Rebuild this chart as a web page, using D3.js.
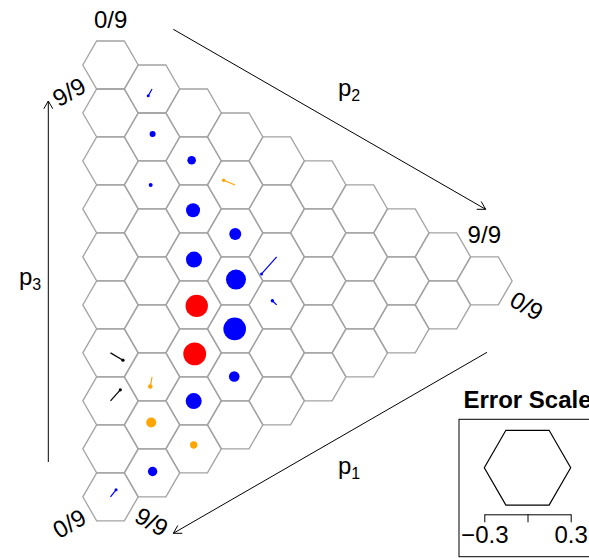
<!DOCTYPE html>
<html>
<head>
<meta charset="utf-8">
<script src="https://cdn.jsdelivr.net/npm/d3@7"></script>
<style>
  body { margin: 0; background: white; }
  text { font-family: "Liberation Sans", Arial, Helvetica, sans-serif; }
</style>
</head>
<body>
<div id="chart"></div>
<script>
// grid resolution (ninths) and the labels at each end of the axes
const nDiv = 9;
const cornerTicks = [0, 9];
const legendTicks = [-0.3, 0, 0.3];

// cells with a mark : p1 = row, p2 = column, p3 = 9 - p1 - p2
const markP1 = [6, 7, 9, 0, 1, 2, 6, 7, 8, 1, 2, 3, 4, 5, 6, 7, 1, 2, 3, 4, 5, 2, 3];
const markP2 = [0, 0, 0, 1, 1, 1, 1, 1, 1, 2, 2, 2, 2, 2, 2, 2, 3, 3, 3, 3, 3, 4, 4];
// error vector of each cell (x to the right, y upwards)
const errX = [0.135, 0.106, 0.060, -0.041, 0.006, -0.015, -0.019, -0.009, 0.006, -0.021, -0.006, 0.004,
              0.034, 0.012, 0.001, 0.001, -0.125, 0.001, 0.009, -0.005, -0.010, -0.164, -0.047];
const errY = [-0.079, 0.119, 0.076, -0.073, 0.032, 0, -0.105, 0.025, 0.014, 0.008, -0.014, -0.029,
              -0.011, -0.011, -0.003, 0.043, 0.051, -0.011, 0.014, 0, 0.003, -0.184, 0.045];
// number of observations (point area)
const nObs = [2.6, 2.6, 2.3, 2.3, 9, 4, 5.3, 25, 22, 18.5, 49, 64, 125, 130, 64, 13.7, 2.9, 36, 100, 128, 28, 2.3, 2.9];
const markCol = ["black", "black", "blue", "blue", "blue", "blue", "orange", "orange", "blue", "blue", "blue", "blue",
                 "red", "red", "blue", "orange", "orange", "blue", "blue", "blue", "blue", "blue", "blue"];

const W = 589, H = 558;
const svg = d3.select("#chart").append("svg")
    .attr("width", W).attr("height", H);

const R = 27.7;                    // hex radius
const h = R * Math.sqrt(3) / 2;    // hex half height
const fs = 24;                     // label font size

// column position from p2, vertical position from p1 + p2/2
const x = d3.scaleLinear().domain([0, nDiv]).range([110.5, 110.5 + nDiv * 1.5 * R]);
const y = d3.scaleLinear().domain([0, nDiv]).range([65, 65 + nDiv * 2 * h]);
const err = d3.scaleLinear().domain([-0.3, 0.3]).range([-R, R]);
const errUp = d3.scaleLinear().domain([-0.3, 0.3]).range([R, -R]);
const size = d3.scaleSqrt().domain([0, 100]).range([0, 10]);

function hexPath(cx, cy, r) {
    const pts = d3.range(6).map(k => {
        const a = Math.PI / 3 * k;
        return [cx + r * Math.cos(a), cy + r * Math.sin(a)];
    });
    return "M" + pts.join("L") + "Z";
}

// hexagon grid
const cells = [];
for (let p2 = 0; p2 <= nDiv; p2++)
    for (let p1 = 0; p1 <= nDiv - p2; p1++) cells.push({p1, p2});

svg.append("g").selectAll("path")
    .data(cells).join("path")
    .attr("d", d => hexPath(x(d.p2), y(d.p1 + d.p2 / 2), R))
    .attr("fill", "none")
    .attr("stroke", "#a3a3a3")
    .attr("stroke-width", 1.3);

// marks : segment from the hex centre to the point
const marks = markP1.map((p1, i) => ({
    cx: x(markP2[i]), cy: y(p1 + markP2[i] / 2),
    ex: x(markP2[i]) + err(errX[i]), ey: y(p1 + markP2[i] / 2) + errUp(errY[i]),
    r: Math.max(1.5, size(nObs[i])), col: markCol[i]
}));

const gm = svg.append("g");
gm.selectAll("line").data(marks).join("line")
    .attr("x1", d => d.cx).attr("y1", d => d.cy)
    .attr("x2", d => d.ex).attr("y2", d => d.ey)
    .attr("stroke", d => d.col).attr("stroke-width", 1.2);
gm.selectAll("circle").data(marks).join("circle")
    .attr("cx", d => d.ex).attr("cy", d => d.ey).attr("r", d => d.r)
    .attr("fill", d => d.col);

// axis arrows (open head)
function arrow(x1, y1, x2, y2) {
    const a = Math.atan2(y2 - y1, x2 - x1), L = 9;
    svg.append("line").attr("x1", x1).attr("y1", y1).attr("x2", x2).attr("y2", y2)
        .attr("stroke", "black").attr("stroke-width", 1);
    [-1, 1].forEach(s => {
        svg.append("line")
            .attr("x1", x2).attr("y1", y2)
            .attr("x2", x2 - L * Math.cos(a + s * Math.PI / 6))
            .attr("y2", y2 - L * Math.sin(a + s * Math.PI / 6))
            .attr("stroke", "black").attr("stroke-width", 1);
    });
}
arrow(173.3, 29.3, 485.7, 209.3);   // p2
arrow(487, 352.3, 173.3, 533.3);    // p1
arrow(48.3, 462, 48.3, 101);        // p3

function axisLabel(xp, yp, sub) {
    const t = svg.append("text").attr("x", xp).attr("y", yp).attr("font-size", fs);
    t.append("tspan").text("p");
    t.append("tspan").attr("font-size", 16).attr("dy", 5).text(sub);
}
axisLabel(338, 96, "2");
axisLabel(338, 474, "1");
axisLabel(19, 285, "3");

// end labels of the three axes
const fmt = v => v + "/" + nDiv;
const ends = [
    {v: cornerTicks[0], x: 110.7, y: 19.2, rot: 0},    // p2 start
    {v: cornerTicks[1], x: 484.3, y: 234, rot: 0},     // p2 end
    {v: cornerTicks[0], x: 526.7, y: 305.7, rot: 30},  // p1 start
    {v: cornerTicks[1], x: 151.7, y: 521.7, rot: 30},  // p1 end
    {v: cornerTicks[0], x: 69.2, y: 523.3, rot: -30},  // p3 start
    {v: cornerTicks[1], x: 69, y: 91.7, rot: -30}      // p3 end
];
svg.append("g").selectAll("text").data(ends).join("text")
    .attr("transform", d => "translate(" + d.x + "," + d.y + ") rotate(" + d.rot + ")")
    .attr("text-anchor", "middle").attr("dy", "0.36em")
    .attr("font-size", fs)
    .text(d => fmt(d.v));

// legend : error scale
const lg = d3.scaleLinear().domain([-0.3, 0.3]).range([484.3, 570.7]);
const lgR = lg(0.3) - lg(0);
svg.append("rect")
    .attr("x", 459).attr("y", 419.3).attr("width", 136).attr("height", 137.4)
    .attr("fill", "none").attr("stroke", "black").attr("stroke-width", 1);
svg.append("text")
    .attr("x", lg(0)).attr("y", 408).attr("text-anchor", "middle")
    .attr("font-size", fs).attr("font-weight", "bold")
    .text("Error Scale");
svg.append("path")
    .attr("d", hexPath(lg(0), 467.7, lgR))
    .attr("fill", "none").attr("stroke", "black").attr("stroke-width", 1.2);

const ax = svg.append("g").attr("transform", "translate(0,514.3)")
    .call(d3.axisBottom(lg).tickValues(legendTicks)
        .tickFormat(d => d === 0 ? "" : d3.format(".1f")(d))
        .tickSize(8).tickSizeOuter(0).tickPadding(4));
ax.selectAll("text").attr("font-size", fs).attr("font-family", "Liberation Sans, Arial, sans-serif").attr("fill", "black");
ax.selectAll("line, path").attr("stroke", "black");
</script>
</body>
</html>
